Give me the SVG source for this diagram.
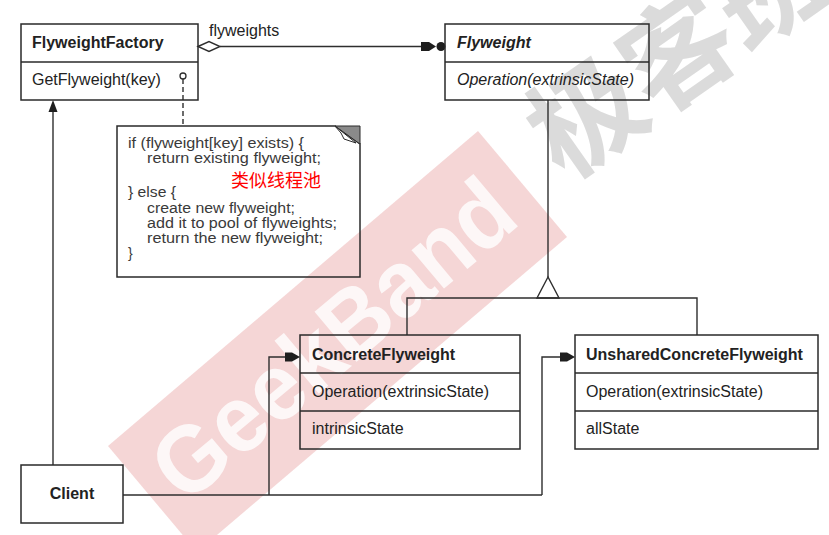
<svg xmlns="http://www.w3.org/2000/svg" width="829" height="535" viewBox="0 0 829 535">
  <style>
    .box{fill:none;stroke:#2a2a2a;stroke-width:1.5}
    .t{font-family:"Liberation Sans",Arial,sans-serif;font-size:16px;fill:#222}
    .b{font-weight:bold}
    .i{font-style:italic}
    .ln{fill:none;stroke:#2e2e2e;stroke-width:1.4}
    .n{font-family:"Liberation Sans",Arial,sans-serif;font-size:14px;fill:#3a3a3a}
    .head{fill:#1e1e1e;stroke:none}
  </style>
  <rect width="829" height="535" fill="#ffffff"/>
  <g id="watermark">
    <polygon points="108,446 478,131 567,237 197,552" fill="#c81e1e" fill-opacity="0.18"/>
    <text transform="translate(332,338) rotate(-40)" x="0" y="34" text-anchor="middle" textLength="440" lengthAdjust="spacingAndGlyphs" font-family="'Liberation Sans',Arial,sans-serif" font-weight="bold" font-size="95" fill="#ffffff" fill-opacity="0.8">GeekBand</text>
    <text transform="translate(564,182) rotate(-35)" x="0" y="0" font-family="'Noto Sans CJK SC',sans-serif" font-weight="bold" font-size="112" fill="#cfcfcf" fill-opacity="0.75">极客班</text>
  </g>
  <g id="connectors">
    <polygon points="198,46.5 209,41.5 220,46.5 209,51.5" fill="#fff" stroke="#2e2e2e" stroke-width="1.4"/>
    <line class="ln" x1="220" y1="46.5" x2="422" y2="46.5"/>
    <polygon class="head" points="421,42 429,42 436,46.5 429,51 421,51"/>
    <circle class="head" cx="441" cy="46.5" r="4.5"/>
    <circle cx="183" cy="76" r="3" fill="#fff" stroke="#2e2e2e" stroke-width="1.3"/>
    <line class="ln" x1="183" y1="79" x2="183" y2="126" stroke-dasharray="5,3"/>
    <line class="ln" x1="548" y1="100" x2="548" y2="277"/>
    <polygon points="548,277 537,298 559,298" fill="#fff" stroke="#2e2e2e" stroke-width="1.4"/>
    <polyline class="ln" points="407,335 407,298 697,298 697,335"/>
    <line class="ln" x1="53" y1="465" x2="53" y2="110"/>
    <polygon class="head" points="53,100 57.5,112 48.5,112"/>
    <polyline class="ln" points="123,495 542,495"/>
    <polyline class="ln" points="269,495 269,357 286,357"/>
    <polygon class="head" points="285,352.5 292,352.5 300,357 292,361.5 285,361.5"/>
    <polyline class="ln" points="542,495 542,357 561,357"/>
    <polygon class="head" points="560,352.5 567,352.5 575,357 567,361.5 560,361.5"/>
  </g>
  <g id="FlyweightFactory">
    <rect class="box" x="21" y="24" width="177" height="76"/>
    <line class="box" x1="21" y1="62" x2="198" y2="62"/>
    <text class="t b" x="32" y="48">FlyweightFactory</text>
    <text class="t" x="32" y="85">GetFlyweight(key)</text>
  </g>
  <text class="t" x="209" y="36">flyweights</text>
  <g id="Flyweight">
    <rect class="box" x="445" y="24" width="204" height="76"/>
    <line class="box" x1="445" y1="62" x2="649" y2="62"/>
    <text class="t b i" x="457" y="48">Flyweight</text>
    <text class="t i" x="457" y="85">Operation(extrinsicState)</text>
  </g>
  <g id="note">
    <polygon points="117,126 335,126 360,144 360,277 117,277" fill="none" stroke="#2a2a2a" stroke-width="1.5"/>
    <polygon points="335,126 360,126 360,144" fill="#8a8a8a" stroke="#2a2a2a" stroke-width="1"/>
    <polygon points="335,126 356,143 344,139 341,133" fill="#fff" stroke="#2a2a2a" stroke-width="1"/>
    <text class="n" x="128" y="148" textLength="176" lengthAdjust="spacingAndGlyphs">if (flyweight[key] exists) {</text>
    <text class="n" x="147" y="163" textLength="174" lengthAdjust="spacingAndGlyphs">return existing flyweight;</text>
    <text x="231" y="187" font-family="'Noto Sans CJK SC',sans-serif" font-size="18" fill="#ff0000">类似线程池</text>
    <text class="n" x="128" y="197" textLength="48" lengthAdjust="spacingAndGlyphs">} else {</text>
    <text class="n" x="147" y="213" textLength="148" lengthAdjust="spacingAndGlyphs">create new flyweight;</text>
    <text class="n" x="147" y="228" textLength="190" lengthAdjust="spacingAndGlyphs">add it to pool of flyweights;</text>
    <text class="n" x="147" y="243" textLength="176" lengthAdjust="spacingAndGlyphs">return the new flyweight;</text>
    <text class="n" x="128" y="258">}</text>
  </g>
  <g id="ConcreteFlyweight">
    <rect class="box" x="300" y="335" width="220" height="114"/>
    <line class="box" x1="300" y1="373" x2="520" y2="373"/>
    <line class="box" x1="300" y1="411" x2="520" y2="411"/>
    <text class="t b" x="312" y="360">ConcreteFlyweight</text>
    <text class="t" x="312" y="397">Operation(extrinsicState)</text>
    <text class="t" x="312" y="434">intrinsicState</text>
  </g>
  <g id="UnsharedConcreteFlyweight">
    <rect class="box" x="575" y="335" width="243" height="114"/>
    <line class="box" x1="575" y1="373" x2="818" y2="373"/>
    <line class="box" x1="575" y1="411" x2="818" y2="411"/>
    <text class="t b" x="586" y="360">UnsharedConcreteFlyweight</text>
    <text class="t" x="586" y="397">Operation(extrinsicState)</text>
    <text class="t" x="586" y="434">allState</text>
  </g>
  <g id="Client">
    <rect class="box" x="21" y="465" width="102" height="58"/>
    <text class="t b" x="72" y="499" text-anchor="middle">Client</text>
  </g>
</svg>
